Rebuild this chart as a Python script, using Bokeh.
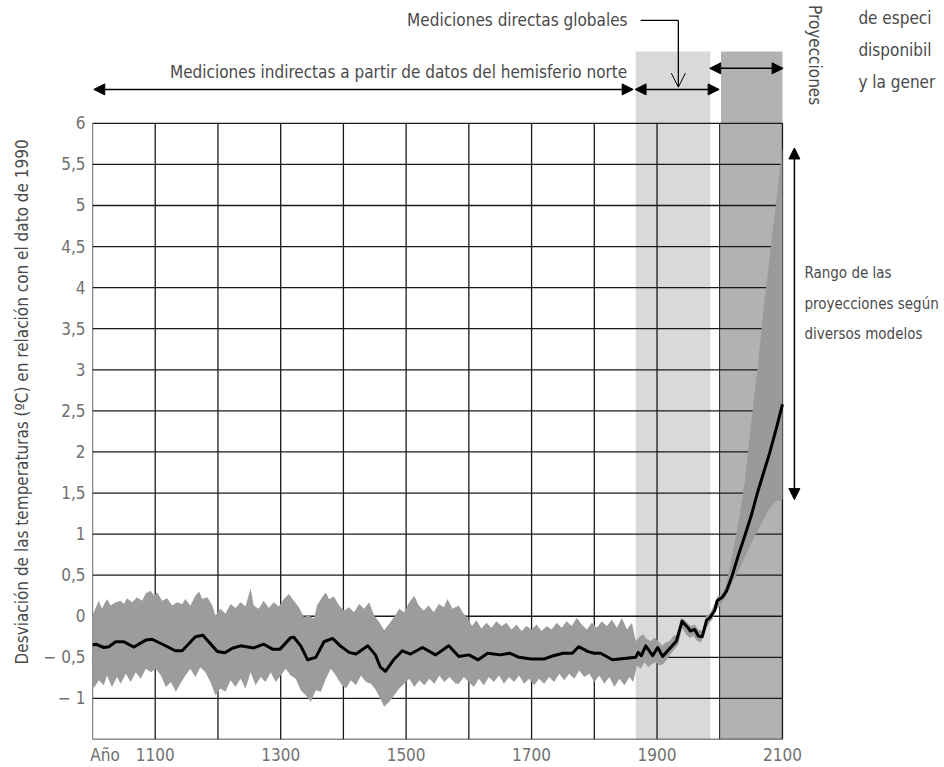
import math
from bokeh.plotting import figure
from bokeh.models import Range1d, FixedTicker, Arrow, NormalHead, OpenHead, Title
from bokeh.core.properties import value
from bokeh.embed import file_html
from bokeh.resources import INLINE

FONT = "'DejaVu Sans Condensed', 'Noto Sans Condensed', 'Liberation Sans Narrow', Roboto"

# ---------------- data ----------------
line_years = [1000, 1005, 1018, 1026, 1037, 1050, 1066, 1085, 1095, 1114, 1132, 1143, 1164, 1176,
              1199, 1211, 1223, 1236, 1257, 1273, 1287, 1299, 1316, 1321, 1332, 1343, 1356, 1369,
              1383, 1395, 1409, 1420, 1439, 1451, 1459, 1467, 1480, 1494, 1507, 1526, 1547, 1568,
              1584, 1600, 1615, 1630, 1650, 1665, 1680, 1700, 1720, 1735, 1750, 1765, 1775, 1790,
              1800, 1810, 1829, 1866, 1870, 1875, 1882, 1893, 1901, 1909, 1917, 1931, 1940, 1950,
              1953, 1960, 1966, 1972, 1979, 1985, 1992, 1996, 2004, 2011, 2020, 2030, 2040, 2050,
              2060, 2070, 2080, 2090, 2100]
line_vals = [-0.35, -0.34, -0.38, -0.37, -0.31, -0.31, -0.375, -0.29, -0.28, -0.35, -0.42, -0.42,
             -0.25, -0.23, -0.43, -0.445, -0.39, -0.36, -0.385, -0.34, -0.40, -0.40, -0.26, -0.255,
             -0.36, -0.53, -0.50, -0.31, -0.27, -0.36, -0.44, -0.46, -0.36, -0.47, -0.62, -0.67,
             -0.53, -0.42, -0.46, -0.38, -0.47, -0.36, -0.49, -0.47, -0.53, -0.45, -0.47, -0.45,
             -0.50, -0.52, -0.52, -0.48, -0.45, -0.45, -0.37, -0.43, -0.45, -0.45, -0.53, -0.50,
             -0.44, -0.48, -0.36, -0.48, -0.38, -0.49, -0.42, -0.30, -0.06, -0.145, -0.18, -0.16,
             -0.24, -0.25, -0.05, -0.01, 0.07, 0.19, 0.23, 0.31, 0.50, 0.75, 0.98, 1.22, 1.50,
             1.75, 2.00, 2.28, 2.58]

upper_years = [1000, 1002, 1010, 1015, 1023, 1029, 1037, 1045, 1050, 1055, 1063, 1071, 1079, 1085,
               1093, 1098, 1103, 1111, 1119, 1127, 1135, 1143, 1148, 1156, 1164, 1170, 1175, 1183,
               1191, 1196, 1204, 1212, 1220, 1228, 1236, 1244, 1252, 1257, 1265, 1273, 1281, 1289,
               1297, 1305, 1313, 1321, 1329, 1337, 1345, 1353, 1358, 1366, 1372, 1377, 1385, 1393,
               1401, 1409, 1417, 1425, 1433, 1441, 1449, 1457, 1465, 1473, 1481, 1489, 1497, 1505,
               1513, 1520, 1528, 1536, 1544, 1552, 1560, 1566, 1574, 1584, 1590, 1598, 1605, 1612,
               1620, 1628, 1636, 1644, 1652, 1660, 1668, 1676, 1684, 1692, 1700, 1708, 1716, 1724,
               1732, 1740, 1748, 1756, 1764, 1772, 1780, 1788, 1796, 1804, 1812, 1820, 1828, 1836,
               1844, 1852, 1860, 1866, 1872, 1878, 1884, 1890, 1896, 1902, 1908, 1914, 1920, 1926,
               1932, 1938, 1942, 1948, 1954, 1960, 1966, 1972, 1978, 1984, 1990, 1996, 2000]
upper_vals = [0.0, 0.05, 0.19, 0.09, 0.21, 0.13, 0.17, 0.19, 0.15, 0.22, 0.17, 0.23, 0.19, 0.28,
              0.31, 0.25, 0.29, 0.19, 0.22, 0.13, 0.17, 0.15, 0.21, 0.13, 0.25, 0.30, 0.21, 0.23,
              0.13, 0.01, 0.09, 0.03, 0.15, 0.10, 0.17, 0.12, 0.34, 0.13, 0.09, 0.19, 0.10, 0.17,
              0.12, 0.21, 0.27, 0.19, 0.11, -0.01, 0.01, -0.03, 0.13, 0.23, 0.29, 0.21, 0.24, 0.13,
              0.07, 0.11, 0.05, 0.15, 0.09, 0.17, 0.01, -0.07, -0.17, -0.09, -0.01, 0.09, 0.05, 0.17,
              0.25, 0.13, 0.07, 0.13, 0.05, 0.15, 0.11, 0.21, 0.09, 0.13, 0.05, -0.02, -0.12, -0.05,
              -0.15, -0.08, -0.14, -0.06, -0.12, -0.08, -0.16, -0.10, -0.18, -0.12, -0.16, -0.10,
              -0.18, -0.12, -0.16, -0.08, -0.14, -0.06, -0.12, -0.02, -0.10, -0.16, -0.08, -0.14,
              -0.06, -0.12, -0.04, -0.14, -0.02, -0.16, -0.08, -0.30, -0.25, -0.22, -0.28, -0.30,
              -0.26, -0.30, -0.36, -0.32, -0.30, -0.24, -0.22, -0.02, -0.03, -0.08, -0.12, -0.10,
              -0.16, -0.18, 0.0, 0.03, 0.12, 0.24, 0.25]

lower_years = [1000, 1002, 1010, 1018, 1023, 1031, 1039, 1045, 1053, 1061, 1069, 1077, 1085, 1093,
               1101, 1109, 1117, 1125, 1133, 1140, 1148, 1156, 1164, 1172, 1180, 1188, 1196, 1204,
               1212, 1220, 1228, 1236, 1244, 1252, 1260, 1268, 1276, 1284, 1292, 1300, 1308, 1316,
               1324, 1332, 1340, 1348, 1356, 1364, 1372, 1380, 1388, 1396, 1404, 1412, 1420, 1428,
               1436, 1444, 1452, 1460, 1465, 1473, 1481, 1489, 1497, 1505, 1513, 1521, 1529, 1537,
               1545, 1553, 1561, 1569, 1579, 1584, 1592, 1600, 1608, 1616, 1624, 1632, 1640, 1648,
               1656, 1664, 1672, 1680, 1688, 1696, 1704, 1712, 1720, 1728, 1736, 1744, 1752, 1760,
               1768, 1776, 1784, 1792, 1800, 1808, 1816, 1824, 1832, 1840, 1848, 1856, 1862, 1868,
               1874, 1880, 1886, 1892, 1898, 1904, 1910, 1916, 1922, 1928, 1934, 1940, 1946, 1952,
               1958, 1964, 1970, 1976, 1982, 1988, 1994, 2000]
lower_vals = [-0.80, -0.88, -0.78, -0.84, -0.72, -0.86, -0.74, -0.82, -0.70, -0.80, -0.68, -0.76,
              -0.64, -0.68, -0.64, -0.72, -0.86, -0.80, -0.92, -0.82, -0.72, -0.64, -0.74, -0.62,
              -0.68, -0.80, -0.96, -0.88, -0.92, -0.78, -0.86, -0.76, -0.88, -0.68, -0.84, -0.74,
              -0.80, -0.68, -0.80, -0.72, -0.64, -0.72, -0.76, -0.90, -0.96, -1.04, -0.90, -0.92,
              -0.76, -0.64, -0.72, -0.82, -0.88, -0.78, -0.84, -0.72, -0.80, -0.82, -0.90, -1.02,
              -1.10, -1.04, -0.96, -0.88, -0.82, -0.76, -0.86, -0.78, -0.84, -0.76, -0.82, -0.72,
              -0.80, -0.74, -0.82, -0.82, -0.74, -0.80, -0.86, -0.76, -0.84, -0.74, -0.80, -0.72,
              -0.82, -0.74, -0.80, -0.72, -0.82, -0.76, -0.84, -0.76, -0.82, -0.74, -0.80, -0.70,
              -0.78, -0.70, -0.76, -0.66, -0.74, -0.70, -0.80, -0.72, -0.82, -0.74, -0.86, -0.76,
              -0.84, -0.74, -0.80, -0.60, -0.64, -0.56, -0.62, -0.58, -0.56, -0.60, -0.58, -0.52,
              -0.46, -0.40, -0.34, -0.14, -0.22, -0.26, -0.24, -0.30, -0.32, -0.18, -0.10, -0.04,
              0.08, 0.14]

proj_years = [1996, 2000, 2010, 2020, 2030, 2040, 2050, 2060, 2070, 2080, 2090, 2100]
proj_upper = [0.19, 0.22, 0.38, 0.75, 1.15, 1.65, 2.35, 3.00, 3.75, 4.40, 5.05, 5.70]
proj_lower = [0.10, 0.12, 0.25, 0.40, 0.55, 0.72, 0.88, 1.04, 1.18, 1.32, 1.40, 1.42]

y_ticks = [-1, -0.5, 0, 0.5, 1, 1.5, 2, 2.5, 3, 3.5, 4, 4.5, 5, 5.5, 6]
y_tick_labels = ["− 1", "− 0,5", "0", "0,5", "1", "1,5", "2", "2,5", "3", "3,5", "4", "4,5",
                 "5", "5,5", "6"]
x_grid = [1000, 1100, 1200, 1300, 1400, 1500, 1600, 1700, 1800, 1900, 2000, 2100]
x_ticks = [1020, 1100, 1300, 1500, 1700, 1900, 2100]
x_tick_labels = ["Año", "1100", "1300", "1500", "1700", "1900", "2100"]

direct_span = [1866, 1985]      # mediciones directas globales
proj_span = [2002, 2100]        # proyecciones
X0, X1 = 1000, 2100
Y0, Y1 = -1.5, 6

# ---------------- figure ----------------
p = figure(width=944, height=767, output_backend="svg", toolbar_location=None,
           x_range=Range1d(1000, 2358.3), y_range=Range1d(-1.5, 7.495),
           min_border_left=92, min_border_right=0, min_border_top=0, min_border_bottom=27)
p.outline_line_color = None
p.grid.visible = False
p.background_fill_color = "white"

for ax in (p.xaxis[0], p.yaxis[0]):
    ax.axis_line_color = None
    ax.major_tick_line_color = None
    ax.minor_tick_line_color = None
    ax.major_tick_out = 0
    ax.major_tick_in = 0
    ax.minor_tick_out = 0
    ax.minor_tick_in = 0
    ax.major_label_text_font = FONT
    ax.major_label_text_font_size = "17px"
    ax.major_label_text_color = "#707070"

p.yaxis.ticker = FixedTicker(ticks=y_ticks)
p.yaxis.major_label_overrides = {t: l for t, l in zip(y_ticks, y_tick_labels)}
p.yaxis.major_label_standoff = 7
p.xaxis.ticker = FixedTicker(ticks=x_ticks)
p.xaxis.major_label_overrides = {t: l for t, l in zip(x_ticks, x_tick_labels)}
p.xaxis.major_label_standoff = 5

p.add_layout(Title(text="Desviación de las temperaturas (ºC) en relación con el dato de 1990",
                   align="left", offset=75, standoff=17, text_font=FONT,
                   text_font_style="normal", text_font_size="17px", text_color="#4a4a4a"),
             "left")

band_top = 6.875
p.quad(left=[direct_span[0]], right=[direct_span[1]], bottom=[Y0], top=[band_top],
       fill_color="#d9d9d9", line_color=None)
p.quad(left=[proj_span[0]], right=[proj_span[1]], bottom=[Y0], top=[band_top],
       fill_color="#b2b2b2", line_color=None)

# grid lines
gy = y_ticks
p.segment(x0=[X0] * len(gy), x1=[X1] * len(gy), y0=gy, y1=gy, line_color="#1a1a1a", line_width=1.3)
p.segment(x0=x_grid, x1=x_grid, y0=[Y0] * len(x_grid), y1=[Y1] * len(x_grid),
          line_color="#1a1a1a", line_width=1.3)
p.segment(x0=[X0], x1=[X1], y0=[Y0], y1=[Y0], line_color="#1a1a1a", line_width=1.5)

# projection range
p.patch(x=proj_years + proj_years[::-1], y=proj_upper + proj_lower[::-1],
        fill_color="#9a9a9a", line_color=None)
# uncertainty band
p.patch(x=upper_years + lower_years[::-1], y=upper_vals + lower_vals[::-1],
        fill_color="#9c9c9c", line_color=None)
# temperature line
p.line(line_years, line_vals, line_color="black", line_width=3, line_join="round")

# arrows
def head():
    return NormalHead(size=11, fill_color="black", line_color="black")

arrow_y = 6.413
p.add_layout(Arrow(start=head(), end=head(), x_start=1002, y_start=arrow_y, x_end=1862,
                   y_end=arrow_y, line_width=1.5))
p.add_layout(Arrow(start=head(), end=head(), x_start=1865, y_start=arrow_y, x_end=1999,
                   y_end=arrow_y, line_width=1.5))
p.add_layout(Arrow(start=head(), end=head(), x_start=1984, y_start=6.669, x_end=2101,
                   y_end=6.669, line_width=1.5))
p.add_layout(Arrow(start=head(), end=head(), x_start=2119, y_start=5.70, x_end=2119,
                   y_end=1.42, line_width=1.5))
p.segment(x0=[1874], x1=[1934], y0=[7.252], y1=[7.252], line_color="black", line_width=1.3)
p.add_layout(Arrow(end=OpenHead(size=14, line_width=1), x_start=1934, y_start=7.252,
                   x_end=1934, y_end=6.44, line_width=1.3))

# texts
tc = "#4a4a4a"
p.text(x=[1853], y=[7.252], text=["Mediciones directas globales"], text_align="right",
       text_baseline="middle", text_font=value(FONT), text_font_size="17px", text_color=tc)
p.text(x=[1488], y=[6.62], text=["Mediciones indirectas a partir de datos del hemisferio norte"],
       text_align="center", text_baseline="middle", text_font=value(FONT),
       text_font_size="17px", text_color=tc)
p.text(x=[2152], y=[6.83], text=["Proyecciones"], angle=-math.pi / 2, text_align="center",
       text_baseline="middle", text_font=value(FONT), text_font_size="17px", text_color=tc)
p.text(x=[2135, 2135, 2135], y=[4.18, 3.80, 3.44],
       text=["Rango de las", "proyecciones según", "diversos modelos"],
       text_align="left", text_baseline="middle", text_font=value(FONT),
       text_font_size="15px", text_color=tc)
p.text(x=[2221, 2221, 2221], y=[7.276, 6.887, 6.498],
       text=["de especi", "disponibil", "y la gener"],
       text_align="left", text_baseline="middle", text_font=value(FONT),
       text_font_size="17px", text_color=tc)

open("out.html", "w").write(file_html(p, INLINE))
